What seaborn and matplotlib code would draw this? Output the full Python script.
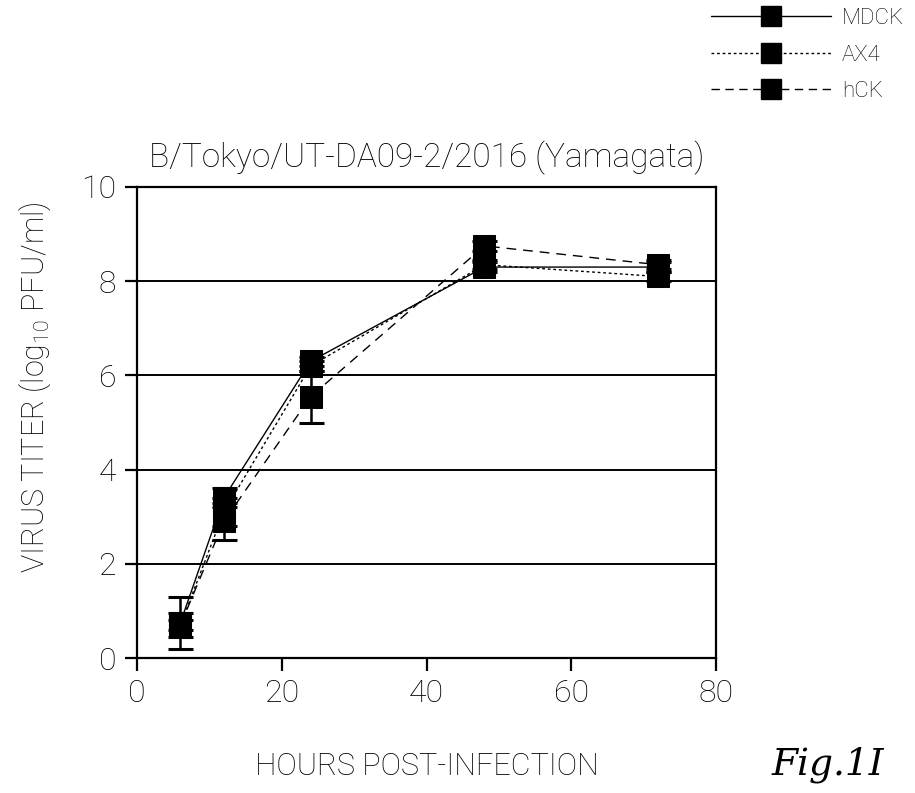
import matplotlib
matplotlib.use("Agg")
import matplotlib.pyplot as plt
import seaborn as sns
import pandas as pd
import numpy as np
from matplotlib.lines import Line2D

hours = [6, 12, 24, 48, 72]
mdck = [0.75, 3.4, 6.3, 8.3, 8.3]
ax4 = [0.7, 3.1, 6.2, 8.35, 8.1]
hck = [0.7, 2.9, 5.55, 8.75, 8.35]
mdck_err = [0.55, 0.2, 0.1, 0.1, 0.1]
ax4_err = [0.25, 0.3, 0.1, 0.1, 0.1]
hck_err = [0.1, 0.4, 0.55, 0.1, 0.1]
series = ["MDCK", "AX4", "hCK"]

title = "B/Tokyo/UT-DA09-2/2016 (Yamagata)"
xlabel = "HOURS POST-INFECTION"
ylabel = r"VIRUS TITER (log$_{10}$ PFU/ml)"

sns.set_theme(style="white")
fam = ["Roboto", "DejaVu Sans"]
plt.rcParams["font.family"] = fam
plt.rcParams["font.weight"] = "light"
plt.rcParams["axes.titleweight"] = "light"
plt.rcParams["axes.labelweight"] = "light"
plt.rcParams["text.color"] = "black"
plt.rcParams["axes.labelcolor"] = "black"
plt.rcParams["xtick.color"] = "black"
plt.rcParams["ytick.color"] = "black"
plt.rcParams["mathtext.fontset"] = "custom"
plt.rcParams["mathtext.rm"] = "Roboto:light"

df = pd.DataFrame({
    "hours": hours * 3,
    "titer": mdck + ax4 + hck,
    "err": mdck_err + ax4_err + hck_err,
    "cell": [s for s in series for _ in hours],
})

fig = plt.figure(figsize=(9.15, 7.93), dpi=100)
ax = fig.add_axes([137 / 915, 1 - 658 / 793, (716 - 137) / 915, (658 - 187) / 793])

for y in [2, 4, 6, 8]:
    ax.axhline(y, color="black", lw=1.4, zorder=1)

dashes = {"MDCK": "", "AX4": (2, 2), "hCK": (7, 5)}
sns.lineplot(data=df, x="hours", y="titer", hue="cell", style="cell",
             palette={s: "black" for s in series}, dashes=dashes,
             markers={s: "s" for s in series}, markersize=16,
             markeredgecolor="black", linewidth=1.0, ax=ax, legend=False,
             zorder=3)

for s in series:
    sub = df[df.cell == s]
    ax.errorbar(sub.hours, sub.titer, yerr=sub.err, fmt="none",
                ecolor="black", elinewidth=1.8, capsize=9, capthick=2.2, zorder=2)

ax.set_xlim(0, 80)
ax.set_ylim(0, 10)
ax.set_xticks([0, 20, 40, 60, 80])
ax.set_yticks([0, 2, 4, 6, 8, 10])
for sp in ax.spines.values():
    sp.set_color("black")
    sp.set_linewidth(1.6)
ax.tick_params(axis="both", direction="out", length=9, width=1.6, color="black",
               labelsize=23, pad=6, left=True, bottom=True)
ax.set_xlabel(xlabel, fontsize=22)
ax.set_ylabel(ylabel, fontsize=22)
ax.xaxis.set_label_coords(0.5, -0.2)
ax.yaxis.set_label_coords(-0.145, 0.575)
ax.set_title(title, fontsize=24, pad=14)

handles = [Line2D([], [], color="black", lw=1.0, linestyle=ls, marker="s",
                  markersize=15, markerfacecolor="black")
           for ls in ["-", (0, (2, 2)), (0, (6, 4))]]
fig.legend(handles, series, loc="upper right", bbox_to_anchor=(1.01, 1.015),
           frameon=False, fontsize=16, handlelength=5.4, labelspacing=0.7,
           handletextpad=0.5)

fig.text(0.905, 0.035, "Fig.1I", fontsize=27, style="italic", weight="normal",
         family=["DejaVu Serif"], ha="center", va="center")

fig.savefig("out.png", dpi=100)
